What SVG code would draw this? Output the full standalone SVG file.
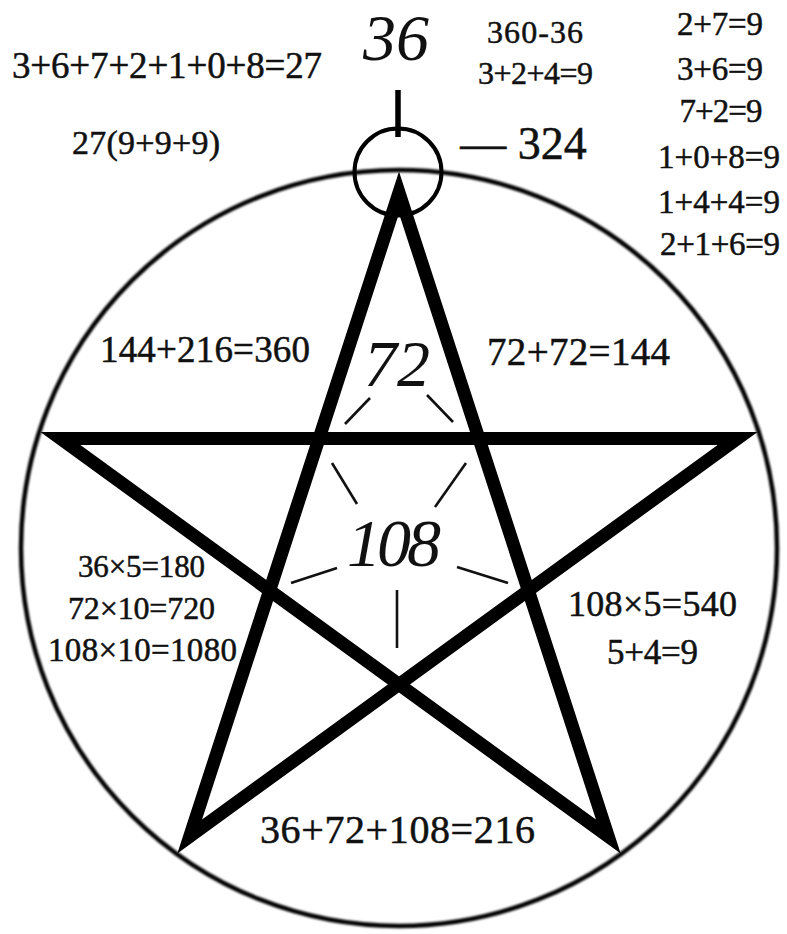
<svg xmlns="http://www.w3.org/2000/svg" width="787" height="934" viewBox="0 0 787 934">
<defs>
<filter id="soft" x="-5%" y="-5%" width="110%" height="110%"><feGaussianBlur stdDeviation="0.9"/></filter>
</defs>
<style>
.t{font-family:"Liberation Serif","Times New Roman",serif;fill:#111;stroke:#111;stroke-width:0.5;text-anchor:middle}
.it{font-family:"Liberation Serif","Times New Roman",serif;font-style:italic;fill:#111;text-anchor:middle}
.dash{stroke:#111;stroke-width:2.6;stroke-linecap:butt;fill:none}
</style>
<rect width="787" height="934" fill="#fff"/>
<g id="outer-circle">
<circle cx="399" cy="548" r="378" fill="none" stroke="#000" stroke-width="4.5" filter="url(#soft)"/>
</g>
<g id="pentagram">
<path d="M399,192.5 L189.7,836.5 L737.6,438.5 L60.4,438.5 L608.3,836.5 Z" fill="none" stroke="#000" stroke-width="13" stroke-linejoin="miter" stroke-miterlimit="10"/>
</g>
<g id="top-marker">
<circle cx="398" cy="172" r="43.5" fill="none" stroke="#000" stroke-width="4"/>
<line x1="398" y1="90" x2="398" y2="137" stroke="#000" stroke-width="5.5"/>
</g>
<g id="dashes">
<line class="dash" x1="370" y1="398" x2="345" y2="424"/>
<line class="dash" x1="427" y1="395" x2="453" y2="422"/>
<line class="dash" x1="332" y1="463" x2="357" y2="504"/>
<line class="dash" x1="466" y1="463" x2="435" y2="507"/>
<line class="dash" x1="337" y1="568" x2="291" y2="583"/>
<line class="dash" x1="457" y1="567" x2="508" y2="583"/>
<line class="dash" x1="397" y1="590" x2="397" y2="648"/>
</g>
<g id="italic-labels">
<text class="it" x="396" y="60" font-size="66">36</text>
<text class="it" x="397" y="386" font-size="66">72</text>
<text class="it" x="394" y="566" font-size="68" textLength="94">108</text>
</g>
<g id="equations">
<text class="t" x="167" y="78" font-size="37" textLength="310">3+6+7+2+1+0+8=27</text>
<text class="t" x="146" y="154" font-size="34" textLength="148">27(9+9+9)</text>
<text class="t" x="535" y="43" font-size="32" textLength="96">360-36</text>
<text class="t" x="535.5" y="84" font-size="32" textLength="115">3+2+4=9</text>
<text class="t" x="523.5" y="159" font-size="46">— 324</text>
<text class="t" x="720" y="35" font-size="33" textLength="86">2+7=9</text>
<text class="t" x="720" y="80" font-size="33" textLength="86">3+6=9</text>
<text class="t" x="721" y="122" font-size="33" textLength="83">7+2=9</text>
<text class="t" x="719" y="168" font-size="33" textLength="122">1+0+8=9</text>
<text class="t" x="719" y="213" font-size="33" textLength="122">1+4+4=9</text>
<text class="t" x="720" y="255" font-size="33" textLength="120">2+1+6=9</text>
<text class="t" x="205" y="362" font-size="37" textLength="210">144+216=360</text>
<text class="t" x="578.5" y="365" font-size="39" textLength="183">72+72=144</text>
<text class="t" x="141.5" y="577" font-size="31" textLength="127">36×5=180</text>
<text class="t" x="141.5" y="619" font-size="32" textLength="147">72×10=720</text>
<text class="t" x="142.5" y="661" font-size="33" textLength="189">108×10=1080</text>
<text class="t" x="652.5" y="616" font-size="36" textLength="169">108×5=540</text>
<text class="t" x="652.5" y="664" font-size="35" textLength="91">5+4=9</text>
<text class="t" x="397.5" y="843" font-size="40" textLength="275">36+72+108=216</text>
</g>
</svg>
